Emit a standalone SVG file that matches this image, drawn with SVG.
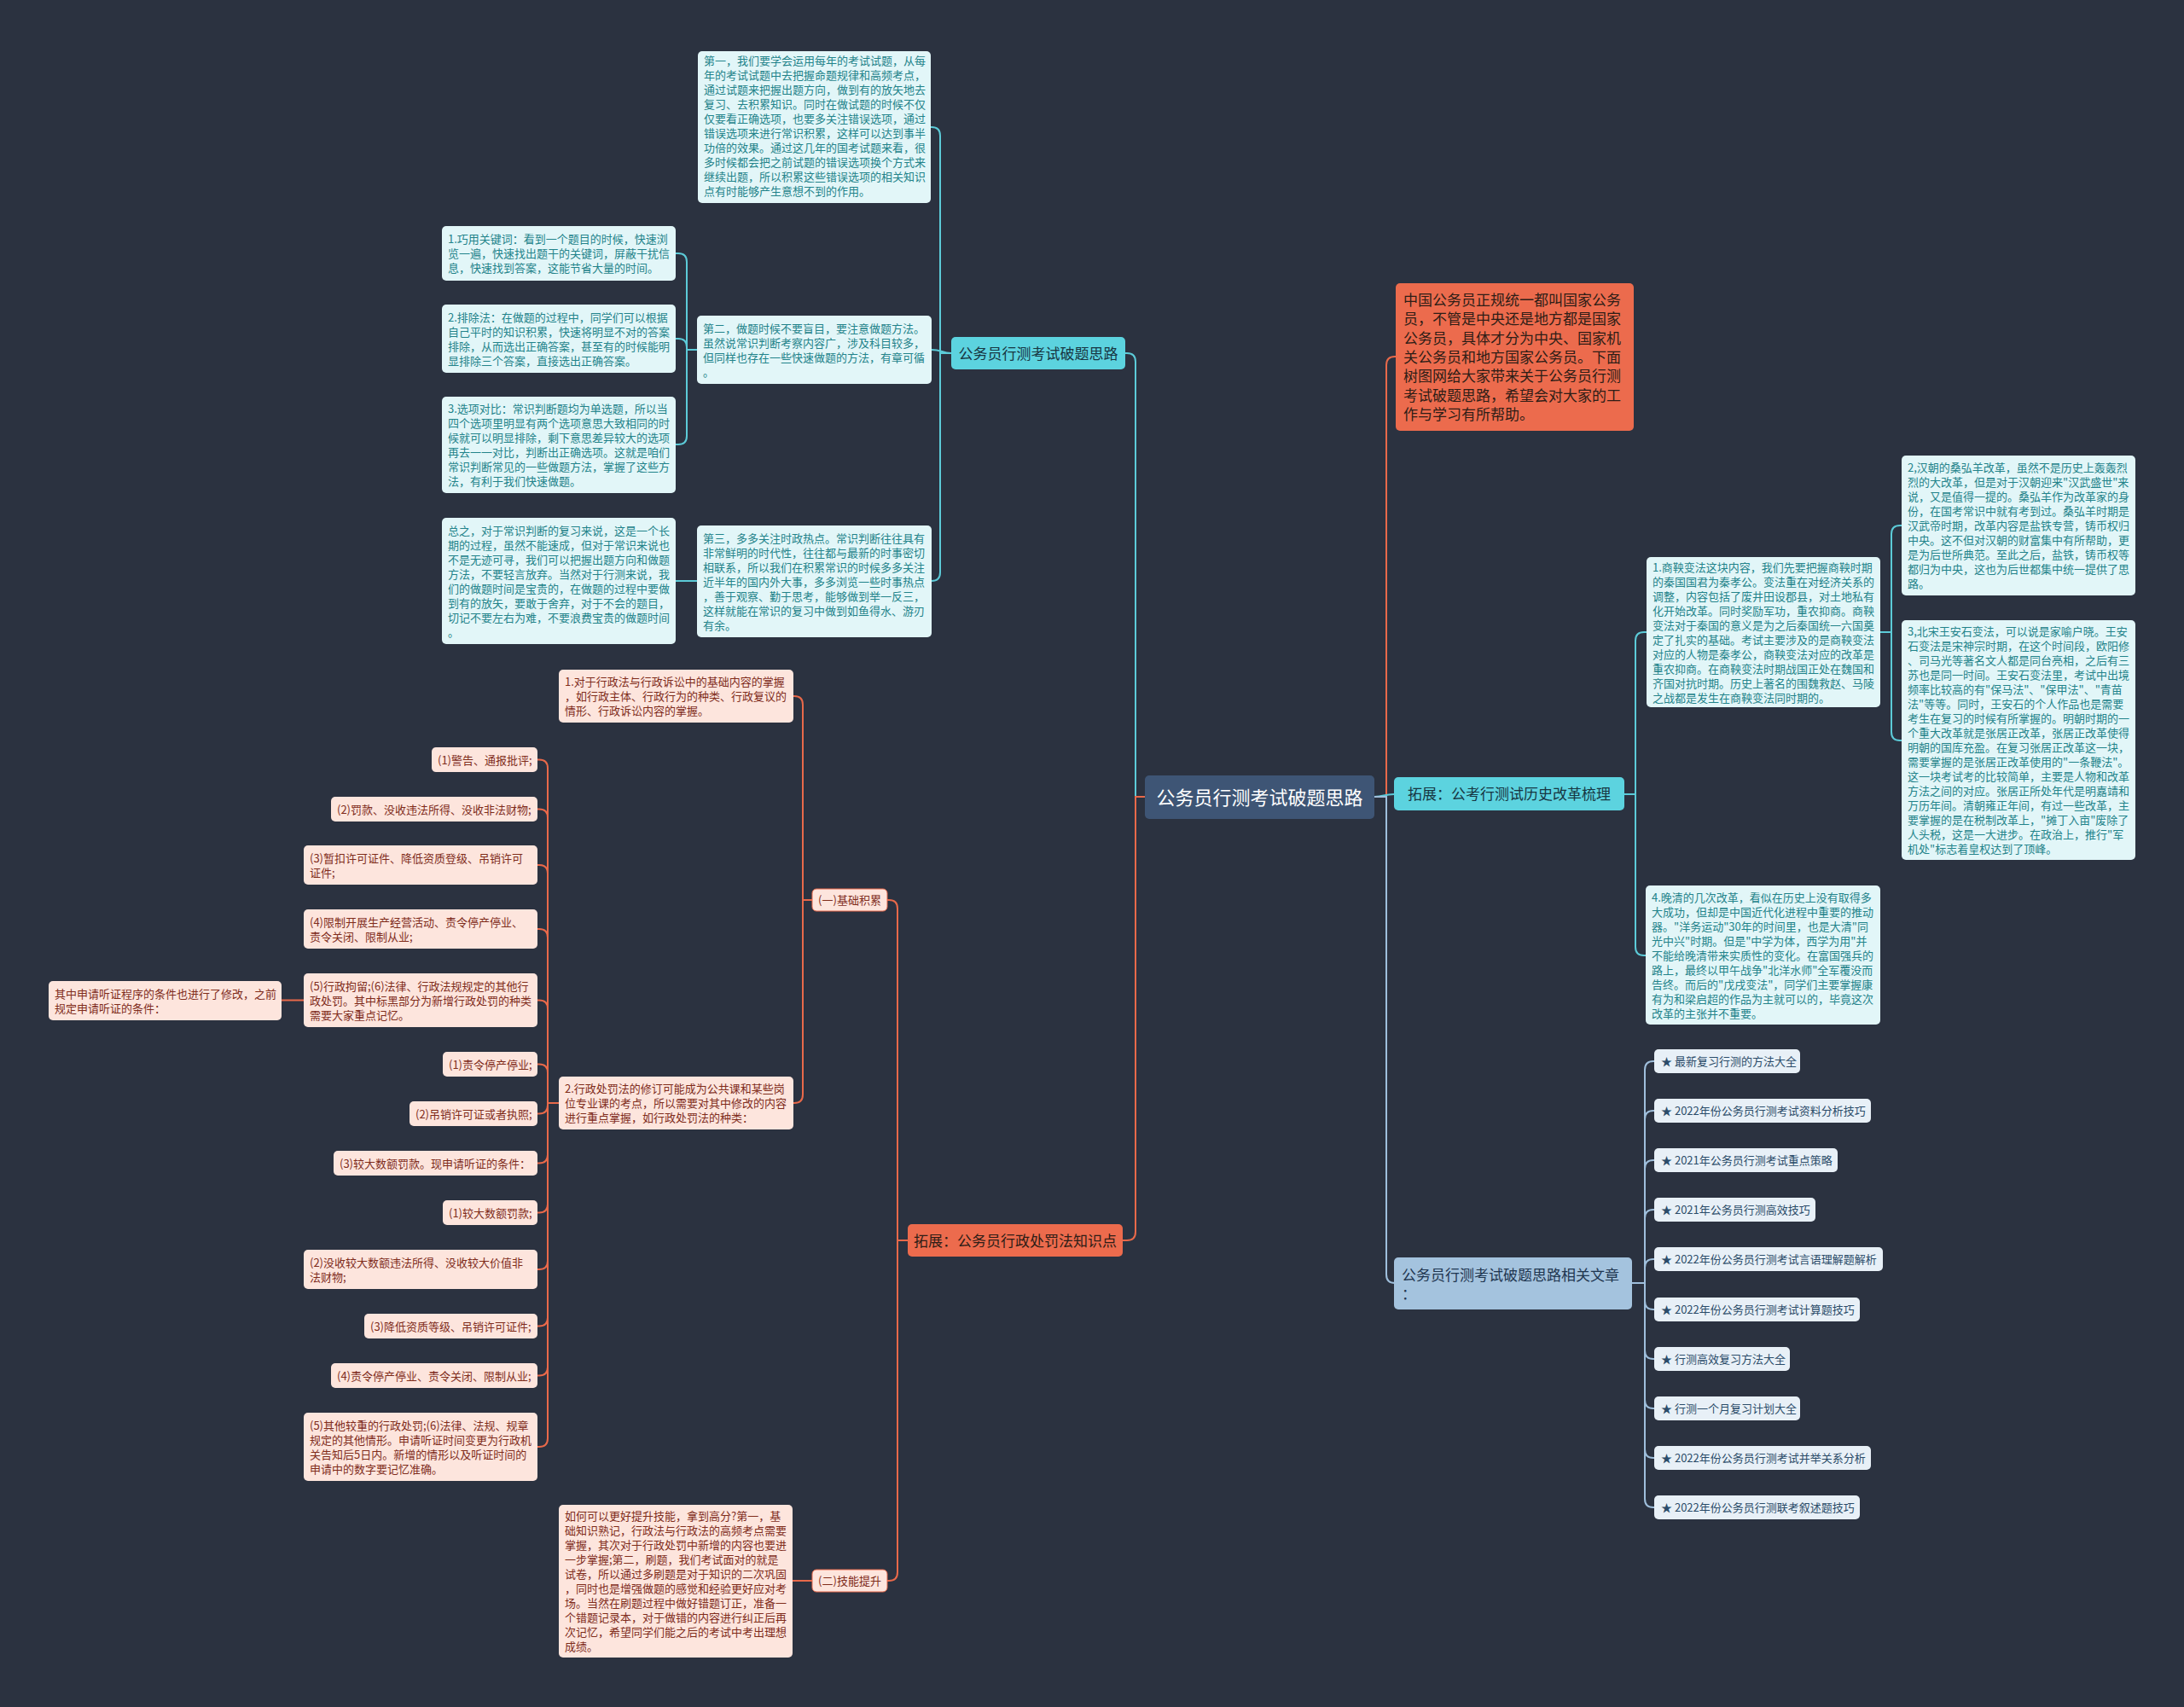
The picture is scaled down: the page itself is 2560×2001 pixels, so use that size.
<svg xmlns="http://www.w3.org/2000/svg" width="2560" height="2001" viewBox="0 0 2560 2001">
<style>
text{font-family:"Noto Sans CJK SC","Noto Sans",sans-serif;}
.cb{fill:#e2f6f8;}
.ct{fill:#22838a;font-size:13px;}
.pb{fill:#fde5dd;}
.pt{fill:#7f2c1b;font-size:13px;}
.lb{fill:#e8f0f7;}
.lt{fill:#2b4c69;font-size:13px;}
.br{font-size:17px;}
.cl{fill:none;stroke:#5ccbd8;stroke-width:2;}
.ol{fill:none;stroke:#e8694a;stroke-width:2;}
.bl{fill:none;stroke:#9fbfdc;stroke-width:2;}
</style>
<rect x="0" y="0" width="2560" height="2001" fill="#2b3240"/>

<g id="connectors">
<path class="cl" d="M1115 414 H1102 V159 Q1102 149 1092 149 H1091"/>
<path class="cl" d="M1115 414 C1104 414 1104 410 1092 410"/>
<path class="cl" d="M1115 414 H1102 V671 Q1102 681 1092 681"/>
<path class="cl" d="M817 410 H805 V307 Q805 297 795 297 H792"/>
<path class="cl" d="M817 410 H805 V407 Q805 397 795 397 H792"/>
<path class="cl" d="M817 410 H805 V511 Q805 521 795 521 H792"/>
<path class="cl" d="M817 681 H792"/>
<path class="cl" d="M1342 934 H1331 V424 Q1331 414 1321 414 H1319"/>
<path class="ol" d="M1342 934 H1331 V1444 Q1331 1454 1321 1454 H1316"/>
<path class="ol" d="M1611 934 H1625 V428 Q1625 418 1635 418 H1636"/>
<path class="cl" d="M1611 934 C1622 934 1622 931 1634 931"/>
<path class="bl" d="M1611 934 H1625 V1494 Q1625 1504 1635 1504 H1634"/>
<path class="cl" d="M1904 931 H1917 V751 Q1917 741 1927 741 H1930"/>
<path class="cl" d="M1904 931 H1917 V1110 Q1917 1120 1927 1120 H1929"/>
<path class="cl" d="M2204 741 H2217 V626 Q2217 616 2227 616 H2229"/>
<path class="cl" d="M2204 741 H2217 V858 Q2217 868 2227 868 H2229"/>
<path class="bl" d="M1913 1504 H1928 V1254 Q1928 1244 1938 1244 H1939"/>
<path class="bl" d="M1913 1504 H1928 V1312 Q1928 1302 1938 1302 H1939"/>
<path class="bl" d="M1913 1504 H1928 V1370 Q1928 1360 1938 1360 H1939"/>
<path class="bl" d="M1913 1504 H1928 V1428 Q1928 1418 1938 1418 H1939"/>
<path class="bl" d="M1913 1504 H1928 V1486 Q1928 1476 1938 1476 H1939"/>
<path class="bl" d="M1913 1504 H1928 V1525 Q1928 1535 1938 1535 H1939"/>
<path class="bl" d="M1913 1504 H1928 V1583 Q1928 1593 1938 1593 H1939"/>
<path class="bl" d="M1913 1504 H1928 V1641 Q1928 1651 1938 1651 H1939"/>
<path class="bl" d="M1913 1504 H1928 V1699 Q1928 1709 1938 1709 H1939"/>
<path class="bl" d="M1913 1504 H1928 V1757 Q1928 1767 1938 1767 H1939"/>
<path class="ol" d="M1064 1454 H1052 V1065 Q1052 1055 1042 1055 H1040"/>
<path class="ol" d="M1064 1454 H1052 V1843 Q1052 1853 1042 1853 H1040"/>
<path class="ol" d="M952 1055 H941 V826 Q941 816 931 816 H930"/>
<path class="ol" d="M952 1055 H941 V1283 Q941 1293 931 1293 H930"/>
<path class="ol" d="M952 1853 H929"/>
<path class="ol" d="M655 1293 H642 V900.5 Q642 890.5 632 890.5 H630"/>
<path class="ol" d="M655 1293 H642 V958.5 Q642 948.5 632 948.5 H630"/>
<path class="ol" d="M655 1293 H642 V1024 Q642 1014 632 1014 H630"/>
<path class="ol" d="M655 1293 H642 V1099 Q642 1089 632 1089 H630"/>
<path class="ol" d="M655 1293 H642 V1182.5 Q642 1172.5 632 1172.5 H630"/>
<path class="ol" d="M655 1293 H642 V1257.5 Q642 1247.5 632 1247.5 H630"/>
<path class="ol" d="M655 1293 H642 V1295.5 Q642 1305.5 632 1305.5 H630"/>
<path class="ol" d="M655 1293 H642 V1353.5 Q642 1363.5 632 1363.5 H630"/>
<path class="ol" d="M655 1293 H642 V1411.5 Q642 1421.5 632 1421.5 H630"/>
<path class="ol" d="M655 1293 H642 V1478 Q642 1488 632 1488 H630"/>
<path class="ol" d="M655 1293 H642 V1544.5 Q642 1554.5 632 1554.5 H630"/>
<path class="ol" d="M655 1293 H642 V1602.5 Q642 1612.5 632 1612.5 H630"/>
<path class="ol" d="M655 1293 H642 V1686 Q642 1696 632 1696 H630"/>
<path class="ol" d="M356 1172.5 H330"/>
</g>

<g id="root">
<rect x="1342" y="909" width="269" height="51" rx="5" fill="#3e5575"/>
<text x="1476.5" y="943" text-anchor="middle" font-size="22" fill="#ffffff">公务员行测考试破题思路</text>
</g>

<g id="branch-tips">
<rect x="1115" y="395" width="204" height="38" rx="5" fill="#5cd3df"/>
<text class="br" x="1217" y="420.5" text-anchor="middle" fill="#173642">公务员行测考试破题思路</text>
</g>

<g id="node-first">
<rect class="cb" x="818" y="60" width="273" height="178" rx="5"/>
<text class="ct" x="825" y="76"><tspan x="825">第一，我们要学会运用每年的考试试题，从每</tspan><tspan x="825" dy="17">年的考试试题中去把握命题规律和高频考点，</tspan><tspan x="825" dy="17">通过试题来把握出题方向，做到有的放矢地去</tspan><tspan x="825" dy="17">复习、去积累知识。同时在做试题的时候不仅</tspan><tspan x="825" dy="17">仅要看正确选项，也要多关注错误选项，通过</tspan><tspan x="825" dy="17">错误选项来进行常识积累，这样可以达到事半</tspan><tspan x="825" dy="17">功倍的效果。通过这几年的国考试题来看，很</tspan><tspan x="825" dy="17">多时候都会把之前试题的错误选项换个方式来</tspan><tspan x="825" dy="17">继续出题，所以积累这些错误选项的相关知识</tspan><tspan x="825" dy="17">点有时能够产生意想不到的作用。</tspan></text>
</g>

<g id="node-second">
<rect class="cb" x="817" y="370" width="275" height="80" rx="5"/>
<text class="ct" x="824" y="389.5"><tspan x="824">第二，做题时候不要盲目，要注意做题方法。</tspan><tspan x="824" dy="17">虽然说常识判断考察内容广，涉及科目较多，</tspan><tspan x="824" dy="17">但同样也存在一些快速做题的方法，有章可循</tspan><tspan x="824" dy="17">。</tspan></text>
</g>

<g id="node-keyword">
<rect class="cb" x="518" y="265" width="274" height="64" rx="5"/>
<text class="ct" x="525" y="285"><tspan x="525">1.巧用关键词：看到一个题目的时候，快速浏</tspan><tspan x="525" dy="17">览一遍，快速找出题干的关键词，屏蔽干扰信</tspan><tspan x="525" dy="17">息，快速找到答案，这能节省大量的时间。</tspan></text>
</g>

<g id="node-exclude">
<rect class="cb" x="518" y="357" width="274" height="80" rx="5"/>
<text class="ct" x="525" y="376.5"><tspan x="525">2.排除法：在做题的过程中，同学们可以根据</tspan><tspan x="525" dy="17">自己平时的知识积累，快速将明显不对的答案</tspan><tspan x="525" dy="17">排除，从而选出正确答案，甚至有的时候能明</tspan><tspan x="525" dy="17">显排除三个答案，直接选出正确答案。</tspan></text>
</g>

<g id="node-compare">
<rect class="cb" x="518" y="465" width="274" height="113" rx="5"/>
<text class="ct" x="525" y="484"><tspan x="525">3.选项对比：常识判断题均为单选题，所以当</tspan><tspan x="525" dy="17">四个选项里明显有两个选项意思大致相同的时</tspan><tspan x="525" dy="17">候就可以明显排除，剩下意思差异较大的选项</tspan><tspan x="525" dy="17">再去一一对比，判断出正确选项。这就是咱们</tspan><tspan x="525" dy="17">常识判断常见的一些做题方法，掌握了这些方</tspan><tspan x="525" dy="17">法，有利于我们快速做题。</tspan></text>
</g>

<g id="node-third">
<rect class="cb" x="817" y="616" width="275" height="131" rx="5"/>
<text class="ct" x="824" y="635.5"><tspan x="824">第三，多多关注时政热点。常识判断往往具有</tspan><tspan x="824" dy="17">非常鲜明的时代性，往往都与最新的时事密切</tspan><tspan x="824" dy="17">相联系，所以我们在积累常识的时候多多关注</tspan><tspan x="824" dy="17">近半年的国内外大事，多多浏览一些时事热点</tspan><tspan x="824" dy="17">，善于观察、勤于思考，能够做到举一反三，</tspan><tspan x="824" dy="17">这样就能在常识的复习中做到如鱼得水、游刃</tspan><tspan x="824" dy="17">有余。</tspan></text>
</g>

<g id="node-summary">
<rect class="cb" x="518" y="607" width="274" height="148" rx="5"/>
<text class="ct" x="525" y="626.5"><tspan x="525">总之，对于常识判断的复习来说，这是一个长</tspan><tspan x="525" dy="17">期的过程，虽然不能速成，但对于常识来说也</tspan><tspan x="525" dy="17">不是无迹可寻，我们可以把握出题方向和做题</tspan><tspan x="525" dy="17">方法，不要轻言放弃。当然对于行测来说，我</tspan><tspan x="525" dy="17">们的做题时间是宝贵的，在做题的过程中要做</tspan><tspan x="525" dy="17">到有的放矢，要敢于舍弃，对于不会的题目，</tspan><tspan x="525" dy="17">切记不要左右为难，不要浪费宝贵的做题时间</tspan><tspan x="525" dy="17">。</tspan></text>
</g>

<g id="node-intro">
<rect x="1636" y="332" width="279" height="173" rx="5" fill="#ec6b4d"/>
<text class="br" x="1645" y="358" fill="#2e1d16"><tspan x="1645">中国公务员正规统一都叫国家公务</tspan><tspan x="1645" dy="22.3">员，不管是中央还是地方都是国家</tspan><tspan x="1645" dy="22.3">公务员，具体才分为中央、国家机</tspan><tspan x="1645" dy="22.3">关公务员和地方国家公务员。下面</tspan><tspan x="1645" dy="22.3">树图网给大家带来关于公务员行测</tspan><tspan x="1645" dy="22.3">考试破题思路，希望会对大家的工</tspan><tspan x="1645" dy="22.3">作与学习有所帮助。</tspan></text>
</g>

<g id="branch-history">
<rect x="1634" y="911" width="270" height="39" rx="5" fill="#5cd3df"/>
<text class="br" x="1769" y="937" text-anchor="middle" fill="#173642">拓展：公考行测试历史改革梳理</text>
</g>

<g id="node-hist1">
<rect class="cb" x="1930" y="653" width="274" height="176" rx="5"/>
<text class="ct" x="1937" y="669.5"><tspan x="1937">1.商鞅变法这块内容，我们先要把握商鞅时期</tspan><tspan x="1937" dy="17">的秦国国君为秦孝公。变法重在对经济关系的</tspan><tspan x="1937" dy="17">调整，内容包括了废井田设郡县，对土地私有</tspan><tspan x="1937" dy="17">化开始改革。同时奖励军功，重农抑商。商鞅</tspan><tspan x="1937" dy="17">变法对于秦国的意义是为之后秦国统一六国奠</tspan><tspan x="1937" dy="17">定了扎实的基础。考试主要涉及的是商鞅变法</tspan><tspan x="1937" dy="17">对应的人物是秦孝公，商鞅变法对应的改革是</tspan><tspan x="1937" dy="17">重农抑商。在商鞅变法时期战国正处在魏国和</tspan><tspan x="1937" dy="17">齐国对抗时期。历史上著名的围魏救赵、马陵</tspan><tspan x="1937" dy="17">之战都是发生在商鞅变法同时期的。</tspan></text>
</g>

<g id="node-hist2">
<rect class="cb" x="2229" y="534" width="274" height="164" rx="5"/>
<text class="ct" x="2236" y="553"><tspan x="2236">2,汉朝的桑弘羊改革，虽然不是历史上轰轰烈</tspan><tspan x="2236" dy="17">烈的大改革，但是对于汉朝迎来"汉武盛世"来</tspan><tspan x="2236" dy="17">说，又是值得一提的。桑弘羊作为改革家的身</tspan><tspan x="2236" dy="17">份，在国考常识中就有考到过。桑弘羊时期是</tspan><tspan x="2236" dy="17">汉武帝时期，改革内容是盐铁专营，铸币权归</tspan><tspan x="2236" dy="17">中央。这不但对汉朝的财富集中有所帮助，更</tspan><tspan x="2236" dy="17">是为后世所典范。至此之后，盐铁，铸币权等</tspan><tspan x="2236" dy="17">都归为中央，这也为后世都集中统一提供了思</tspan><tspan x="2236" dy="17">路。</tspan></text>
</g>

<g id="node-hist3">
<rect class="cb" x="2229" y="727" width="274" height="281" rx="5"/>
<text class="ct" x="2236" y="745"><tspan x="2236">3,北宋王安石变法，可以说是家喻户晓。王安</tspan><tspan x="2236" dy="17">石变法是宋神宗时期，在这个时间段，欧阳修</tspan><tspan x="2236" dy="17">、司马光等著名文人都是同台亮相，之后有三</tspan><tspan x="2236" dy="17">苏也是同一时间。王安石变法里，考试中出境</tspan><tspan x="2236" dy="17">频率比较高的有"保马法"、"保甲法"、"青苗</tspan><tspan x="2236" dy="17">法"等等。同时，王安石的个人作品也是需要</tspan><tspan x="2236" dy="17">考生在复习的时候有所掌握的。明朝时期的一</tspan><tspan x="2236" dy="17">个重大改革就是张居正改革，张居正改革使得</tspan><tspan x="2236" dy="17">明朝的国库充盈。在复习张居正改革这一块，</tspan><tspan x="2236" dy="17">需要掌握的是张居正改革使用的"一条鞭法"。</tspan><tspan x="2236" dy="17">这一块考试考的比较简单，主要是人物和改革</tspan><tspan x="2236" dy="17">方法之间的对应。张居正所处年代是明嘉靖和</tspan><tspan x="2236" dy="17">万历年间。清朝雍正年间，有过一些改革，主</tspan><tspan x="2236" dy="17">要掌握的是在税制改革上，"摊丁入亩"废除了</tspan><tspan x="2236" dy="17">人头税，这是一大进步。在政治上，推行"军</tspan><tspan x="2236" dy="17">机处"标志着皇权达到了顶峰。</tspan></text>
</g>

<g id="node-hist4">
<rect class="cb" x="1929" y="1038" width="275" height="163" rx="5"/>
<text class="ct" x="1936" y="1056.5"><tspan x="1936">4.晚清的几次改革，看似在历史上没有取得多</tspan><tspan x="1936" dy="17">大成功，但却是中国近代化进程中重要的推动</tspan><tspan x="1936" dy="17">器。"洋务运动"30年的时间里，也是大清"同</tspan><tspan x="1936" dy="17">光中兴"时期。但是"中学为体，西学为用"并</tspan><tspan x="1936" dy="17">不能给晚清带来实质性的变化。在富国强兵的</tspan><tspan x="1936" dy="17">路上，最终以甲午战争"北洋水师"全军覆没而</tspan><tspan x="1936" dy="17">告终。而后的"戊戌变法"，同学们主要掌握康</tspan><tspan x="1936" dy="17">有为和梁启超的作品为主就可以的，毕竟这次</tspan><tspan x="1936" dy="17">改革的主张并不重要。</tspan></text>
</g>

<g id="branch-related">
<rect x="1634" y="1474" width="279" height="61" rx="5" fill="#a4c3de"/>
<text class="br" x="1643" y="1500.5" fill="#1f3650"><tspan x="1643">公务员行测考试破题思路相关文章</tspan><tspan x="1643" dy="22">：</tspan></text>
</g>

<g id="related-items">
<g id="item1"><rect class="lb" x="1939" y="1230" width="171" height="28" rx="5"/><text class="lt" x="1947" y="1249">★ 最新复习行测的方法大全</text></g>
<g id="item2"><rect class="lb" x="1939" y="1288" width="254" height="28" rx="5"/><text class="lt" x="1947" y="1307">★ 2022年份公务员行测考试资料分析技巧</text></g>
<g id="item3"><rect class="lb" x="1939" y="1346" width="215" height="28" rx="5"/><text class="lt" x="1947" y="1365">★ 2021年公务员行测考试重点策略</text></g>
<g id="item4"><rect class="lb" x="1939" y="1404" width="189" height="28" rx="5"/><text class="lt" x="1947" y="1423">★ 2021年公务员行测高效技巧</text></g>
<g id="item5"><rect class="lb" x="1939" y="1462" width="268" height="28" rx="5"/><text class="lt" x="1947" y="1481">★ 2022年份公务员行测考试言语理解题解析</text></g>
<g id="item6"><rect class="lb" x="1939" y="1521" width="241" height="28" rx="5"/><text class="lt" x="1947" y="1540">★ 2022年份公务员行测考试计算题技巧</text></g>
<g id="item7"><rect class="lb" x="1939" y="1579" width="159" height="28" rx="5"/><text class="lt" x="1947" y="1598">★ 行测高效复习方法大全</text></g>
<g id="item8"><rect class="lb" x="1939" y="1637" width="171" height="28" rx="5"/><text class="lt" x="1947" y="1656">★ 行测一个月复习计划大全</text></g>
<g id="item9"><rect class="lb" x="1939" y="1695" width="254" height="28" rx="5"/><text class="lt" x="1947" y="1714">★ 2022年份公务员行测考试并举关系分析</text></g>
<g id="item10"><rect class="lb" x="1939" y="1753" width="241" height="28" rx="5"/><text class="lt" x="1947" y="1772">★ 2022年份公务员行测联考叙述题技巧</text></g>
</g>

<g id="branch-law">
<rect x="1064" y="1435" width="252" height="38" rx="5" fill="#ec6b4d"/>
<text class="br" x="1190" y="1460.5" text-anchor="middle" fill="#2e1d16">拓展：公务员行政处罚法知识点</text>
</g>

<g id="node-basic">
<rect class="pb" x="952" y="1042" width="88" height="26" rx="5" stroke="#e8694a" stroke-width="1"/>
<text class="pt" x="996" y="1060" text-anchor="middle">(一)基础积累</text>
</g>

<g id="node-skill">
<rect class="pb" x="952" y="1840" width="88" height="26" rx="5" stroke="#e8694a" stroke-width="1"/>
<text class="pt" x="996" y="1858" text-anchor="middle">(二)技能提升</text>
</g>

<g id="node-law1">
<rect class="pb" x="655" y="785" width="275" height="62" rx="5"/>
<text class="pt" x="662" y="804"><tspan x="662">1.对于行政法与行政诉讼中的基础内容的掌握</tspan><tspan x="662" dy="17">，如行政主体、行政行为的种类、行政复议的</tspan><tspan x="662" dy="17">情形、行政诉讼内容的掌握。</tspan></text>
</g>

<g id="node-law2">
<rect class="pb" x="655" y="1262" width="275" height="62" rx="5"/>
<text class="pt" x="662" y="1281"><tspan x="662">2.行政处罚法的修订可能成为公共课和某些岗</tspan><tspan x="662" dy="17">位专业课的考点，所以需要对其中修改的内容</tspan><tspan x="662" dy="17">进行重点掌握，如行政处罚法的种类：</tspan></text>
</g>

<g id="p1"><rect class="pb" x="506" y="876" width="124" height="29" rx="5"/><text class="pt" x="513" y="895.5">(1)警告、通报批评;</text></g>
<g id="p2"><rect class="pb" x="388" y="934" width="242" height="29" rx="5"/><text class="pt" x="395" y="953.5">(2)罚款、没收违法所得、没收非法财物;</text></g>
<g id="p3"><rect class="pb" x="356" y="991" width="274" height="46" rx="5"/><text class="pt" x="363" y="1010.5"><tspan x="363">(3)暂扣许可证件、降低资质登级、吊销许可</tspan><tspan x="363" dy="17">证件;</tspan></text></g>
<g id="p4"><rect class="pb" x="356" y="1066" width="274" height="46" rx="5"/><text class="pt" x="363" y="1085.5"><tspan x="363">(4)限制开展生产经营活动、责令停产停业、</tspan><tspan x="363" dy="17">责令关闭、限制从业;</tspan></text></g>
<g id="p5"><rect class="pb" x="356" y="1141" width="274" height="63" rx="5"/><text class="pt" x="363" y="1160.5"><tspan x="363">(5)行政拘留;(6)法律、行政法规规定的其他行</tspan><tspan x="363" dy="17">政处罚。其中标黑部分为新增行政处罚的种类</tspan><tspan x="363" dy="17">需要大家重点记忆。</tspan></text></g>
<g id="p-hearing"><rect class="pb" x="57" y="1150" width="273" height="46" rx="5"/><text class="pt" x="64" y="1169.5"><tspan x="64">其中申请听证程序的条件也进行了修改，之前</tspan><tspan x="64" dy="17">规定申请听证的条件：</tspan></text></g>
<g id="p6"><rect class="pb" x="519" y="1233" width="111" height="29" rx="5"/><text class="pt" x="526" y="1252.5">(1)责令停产停业;</text></g>
<g id="p7"><rect class="pb" x="480" y="1291" width="150" height="29" rx="5"/><text class="pt" x="487" y="1310.5">(2)吊销许可证或者执照;</text></g>
<g id="p8"><rect class="pb" x="391" y="1349" width="239" height="29" rx="5"/><text class="pt" x="398" y="1368.5">(3)较大数额罚款。现申请听证的条件：</text></g>
<g id="p9"><rect class="pb" x="519" y="1407" width="111" height="29" rx="5"/><text class="pt" x="526" y="1426.5">(1)较大数额罚款;</text></g>
<g id="p10"><rect class="pb" x="356" y="1465" width="274" height="46" rx="5"/><text class="pt" x="363" y="1484.5"><tspan x="363">(2)没收较大数额违法所得、没收较大价值非</tspan><tspan x="363" dy="17">法财物;</tspan></text></g>
<g id="p11"><rect class="pb" x="427" y="1540" width="203" height="29" rx="5"/><text class="pt" x="434" y="1559.5">(3)降低资质等级、吊销许可证件;</text></g>
<g id="p12"><rect class="pb" x="388" y="1598" width="242" height="29" rx="5"/><text class="pt" x="395" y="1617.5">(4)责令停产停业、责令关闭、限制从业;</text></g>
<g id="p13"><rect class="pb" x="356" y="1656" width="274" height="80" rx="5"/><text class="pt" x="363" y="1675.5"><tspan x="363">(5)其他较重的行政处罚;(6)法律、法规、规章</tspan><tspan x="363" dy="17">规定的其他情形。申请听证时间变更为行政机</tspan><tspan x="363" dy="17">关告知后5日内。新增的情形以及听证时间的</tspan><tspan x="363" dy="17">申请中的数字要记忆准确。</tspan></text></g>

<g id="node-how">
<rect class="pb" x="655" y="1764" width="274" height="179" rx="5"/>
<text class="pt" x="662" y="1782"><tspan x="662">如何可以更好提升技能，拿到高分?第一，基</tspan><tspan x="662" dy="17">础知识熟记，行政法与行政法的高频考点需要</tspan><tspan x="662" dy="17">掌握，其次对于行政处罚中新增的内容也要进</tspan><tspan x="662" dy="17">一步掌握;第二，刷题，我们考试面对的就是</tspan><tspan x="662" dy="17">试卷，所以通过多刷题是对于知识的二次巩固</tspan><tspan x="662" dy="17">，同时也是增强做题的感觉和经验更好应对考</tspan><tspan x="662" dy="17">场。当然在刷题过程中做好错题订正，准备一</tspan><tspan x="662" dy="17">个错题记录本，对于做错的内容进行纠正后再</tspan><tspan x="662" dy="17">次记忆，希望同学们能之后的考试中考出理想</tspan><tspan x="662" dy="17">成绩。</tspan></text>
</g>
</svg>
